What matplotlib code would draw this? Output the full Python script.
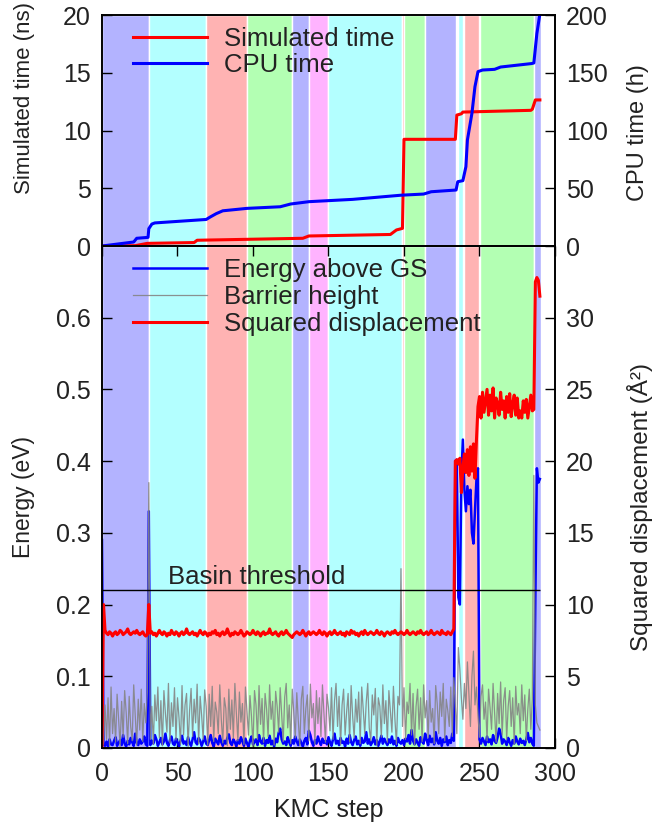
import matplotlib
matplotlib.use('Agg')
import matplotlib.pyplot as plt
import numpy as np

plt.rcParams['font.family'] = ['Liberation Sans', 'DejaVu Sans']
TXT = '#222222'

# ---------------- basin spans (KMC step ranges) ----------------
span_start = [0, 31, 69, 96, 126, 137, 150, 199, 200, 214, 236, 239.5, 250.5, 286]
span_end = [31, 69, 96, 126, 137, 150, 199, 200, 214, 234.5, 239, 249.8, 286, 291]
span_color = ['#b3b3ff', '#b3ffff', '#ffb3b3', '#b3ffb3', '#b3b3ff', '#ffb3ff', '#b3ffff',
              '#ffb3b3', '#b3ffb3', '#b3b3ff', '#b3ffff', '#ffb3b3', '#b3ffb3', '#b3b3ff']

# ---------------- top panel ----------------
sim_steps = [0, 22, 30, 61, 63, 96, 133, 137, 191, 195, 199, 200, 234, 235, 238, 239, 284, 285, 287, 290]
sim_ns = [0, 0.03, 0.23, 0.3, 0.5, 0.58, 0.67, 0.87, 1.0, 1.39, 1.53, 9.24, 9.24, 11.34, 11.45, 11.6,
          11.75, 11.85, 12.65, 12.65]

cpu_steps = [0, 21, 23, 30.5, 31, 33, 35, 69, 71.5, 75.6, 80, 96, 118, 125, 137, 166, 198, 213, 218,
             234.5, 235.6, 239, 241, 242, 245, 247, 249, 252, 260, 264, 284.5, 286, 288, 290]
cpu_h = [0, 3.5, 6.7, 7.5, 15, 19, 20, 23, 25, 28, 30.5, 32.6, 34, 36.4, 38.4, 40.4, 44, 45, 47,
         48.5, 55.7, 56.6, 68.7, 91.8, 115, 138, 151, 152.4, 153, 155, 158, 158.5, 184, 201]

# ---------------- bottom panel (per KMC step) ----------------
energy_mev = [
    290, 6, 3, 9, 2, 12, 5, 4, 10, 15,
    3, 7, 11, 4, 18, 6, 2, 10, 5, 14,
    8, 3, 20, 7, 4, 12, 6, 9, 16, 5,
    3, 330, 4, 10, 6, 18, 12, 3, 8, 14,
    5, 9, 20, 7, 3, 11, 16, 6, 4, 13,
    8, 2, 10, 17, 6, 9, 4, 15, 7, 3,
    12, 22, 8, 5, 14, 10, 3, 9, 16, 6,
    4, 11, 18, 7, 2, 13, 9, 5, 17, 8,
    3, 10, 6, 14, 19, 7, 4, 12, 8, 2,
    11, 6, 15, 9, 3, 13, 7, 1, 10, 16,
    5, 8, 12, 4, 18, 9, 6, 14, 3, 11,
    7, 17, 5, 10, 2, 13, 8, 21, 27, 12,
    6, 9, 4, 15, 8, 3, 11, 6, 16, 9,
    4, 12, 7, 2, 10, 14, 5, 24, 18, 8,
    3, 11, 6, 16, 9, 4, 13, 7, 10, 5,
    15, 8, 3, 12, 20, 6, 10, 4, 14, 7,
    9, 2, 13, 6, 18, 8, 4, 11, 16, 5,
    10, 3, 14, 7, 9, 22, 6, 12, 4, 8,
    15, 5, 11, 3, 9, 17, 6, 13, 8, 4,
    12, 7, 16, 5, 10, 3, 14, 8, 6, 11,
    4, 13, 9, 18, 6, 25, 10, 5, 12, 7,
    3, 15, 9, 6, 20, 11, 4, 17, 8, 13,
    5, 22, 10, 6, 14, 3, 12, 8, 16, 4,
    11, 7, 20, 10, 400, 402, 210, 200, 380, 430,
    360, 330, 365, 340, 360, 300, 285, 330, 375, 390,
    12, 6, 14, 9, 4, 16, 8, 12, 5, 18,
    10, 7, 15, 27, 20, 6, 12, 9, 4, 14,
    8, 3, 11, 6, 16, 9, 5, 13, 7, 10,
    4, 12, 21, 8, 14, 6, 3, 210, 390, 370,
    375]

barrier_mev = [
    95, 5, 60, 12, 70, 3, 85, 20, 55, 8,
    75, 40, 2, 65, 15, 80, 50, 6, 72, 30,
    10, 88, 45, 4, 68, 25, 82, 9, 62, 35,
    78, 370, 12, 58, 5, 74, 38, 85, 14, 66,
    3, 80, 48, 22, 90, 7, 63, 30, 84, 11,
    70, 42, 5, 87, 18, 60, 76, 2, 52, 83,
    16, 68, 35, 89, 6, 72, 45, 12, 81, 58,
    4, 75, 30, 86, 9, 64, 50, 20, 88, 40,
    7, 70, 55, 3, 82, 26, 67, 14, 90, 48,
    10, 78, 36, 62, 5, 85, 52, 18, 73, 44,
    2, 80, 60, 12, 87, 33, 69, 8, 76, 54,
    16, 88, 40, 65, 4, 79, 58, 22, 84, 46,
    9, 71, 90, 28, 60, 6, 82, 50, 14, 77,
    38, 3, 68, 86, 20, 55, 74, 10, 89, 42,
    62, 5, 80, 34, 70, 16, 88, 48, 8, 75,
    56, 24, 84, 12, 66, 90, 30, 72, 4, 60,
    82, 18, 50, 76, 9, 87, 44, 14, 68, 36,
    78, 6, 85, 54, 20, 64, 90, 28, 10, 74,
    46, 83, 3, 70, 58, 15, 88, 34, 66, 8,
    80, 52, 22, 86, 40, 5, 72, 60, 250, 30,
    84, 12, 64, 48, 90, 18, 76, 4, 58, 82,
    26, 70, 9, 88, 42, 66, 14, 80, 36, 55,
    6, 87, 62, 20, 78, 44, 90, 10, 68, 52,
    30, 85, 16, 98, 60, 20, 140, 110, 70, 40,
    90, 55, 120, 75, 30, 100, 135, 60, 85, 45,
    15, 72, 88, 40, 64, 10, 82, 56, 26, 90,
    48, 8, 76, 34, 92, 18, 66, 84, 12, 58,
    80, 30, 70, 5, 86, 46, 62, 20, 88, 38,
    74, 10, 54, 82, 26, 68, 380, 60, 35, 30,
    25]

disp_tenths = [
    0, 100, 82, 80, 79, 81, 80, 78, 80, 81,
    79, 80, 82, 81, 79, 80, 81, 83, 80, 79,
    80, 81, 80, 82, 80, 79, 80, 81, 79, 78,
    79, 100, 80, 81, 79, 80, 78, 80, 82, 80,
    79, 81, 80, 78, 80, 79, 82, 80, 79, 81,
    80, 78, 80, 81, 79, 80, 83, 80, 79, 80,
    81, 79, 80, 78, 80, 82, 80, 79, 81, 80,
    78, 80, 79, 81, 80, 82, 79, 80, 78, 80,
    81, 79, 80, 83, 80, 78, 80, 79, 81, 80,
    79, 80, 82, 80, 78, 79, 81, 80, 79, 80,
    82, 80, 79, 81, 80, 78, 80, 81, 79, 80,
    80, 83, 80, 79, 80, 81, 79, 78, 80, 81,
    79, 80, 82, 80, 79, 78, 77, 79, 80, 81,
    80, 79, 80, 82, 80, 78, 80, 81, 79, 80,
    81, 80, 79, 80, 82, 80, 79, 81, 80, 78,
    80, 81, 79, 80, 82, 80, 79, 80, 81, 79,
    80, 78, 81, 80, 79, 82, 80, 81, 79, 80,
    78, 80, 81, 79, 82, 80, 79, 80, 81, 80,
    79, 80, 82, 80, 79, 81, 80, 78, 80, 81,
    80, 79, 81, 80, 82, 80, 79, 80, 81, 80,
    79, 80, 82, 80, 79, 80, 81, 80, 79, 81,
    80, 82, 80, 79, 80, 81, 79, 80, 82, 80,
    79, 80, 81, 80, 79, 82, 80, 80, 79, 81,
    80, 79, 81, 83, 200, 201, 198, 202, 178, 195,
    205, 192, 208, 190, 210, 193, 212, 188, 215, 238,
    245, 230, 248, 234, 242, 250, 232, 246, 235, 251,
    230, 244, 240, 232, 248, 236, 242, 230, 245, 234,
    247, 231, 240, 246, 232, 244, 230, 235, 230, 242,
    234, 243, 230, 238, 246, 235, 236, 325, 328, 326,
    315]

threshold_ev = 0.22

energy = np.array(energy_mev) / 1000.0
barrier = np.array(barrier_mev) / 1000.0
disp = np.array(disp_tenths) / 10.0
st_e = np.arange(len(energy))
st_b = np.arange(len(barrier))
st_d = np.arange(len(disp))

# ---------------- figure ----------------
fig = plt.figure(figsize=(6.53, 8.32), dpi=100)
axT = fig.add_axes([0.1562, 0.7043, 0.6937, 0.2776])
axB = fig.add_axes([0.1562, 0.1010, 0.6937, 0.6034])

for ax in (axT, axB):
    for s, e, c in zip(span_start, span_end, span_color):
        ax.axvspan(s, e, facecolor=c, edgecolor='white', linewidth=1.0, zorder=0)
    ax.set_xlim(0, 300)

tick_kw = dict(direction='in', length=7, width=1.0, labelsize=18, pad=8, colors='black', labelcolor=TXT)

# top panel
lT1, = axT.plot(sim_steps, sim_ns, color='#ff0000', lw=2.2, label='Simulated time')
axT.set_ylim(0, 20)
axT.set_yticks([0, 5, 10, 15, 20])
axT.set_xticks(range(0, 301, 50))
axT.tick_params(axis='x', bottom=False, top=False, labelbottom=False)
axT.tick_params(axis='y', **tick_kw)
axT2 = axT.twinx()
lT2, = axT2.plot(cpu_steps, cpu_h, color='#0000ff', lw=2.2, label='CPU time')
axT2.set_ylim(0, 200)
axT2.set_yticks(range(0, 201, 50))
axT2.tick_params(axis='y', **tick_kw)
axT.set_ylabel('Simulated time (ns)', fontsize=16, color=TXT)
axT.yaxis.set_label_coords(-0.148, 0.64)
axT2.set_ylabel('CPU time (h)', fontsize=17, color=TXT, rotation=90)
axT2.yaxis.set_label_coords(1.158, 0.49)
axT2.legend(handles=[lT1, lT2], loc='upper left', bbox_to_anchor=(0.068, 0.95), frameon=False,
            fontsize=18.5, handlelength=2.9, handletextpad=0.65, labelspacing=0.1,
            borderpad=0, borderaxespad=0, labelcolor=TXT)

# bottom panel
lB1, = axB.plot(st_e, energy, color='#0000ff', lw=1.8, zorder=2, label='Energy above GS')
lB2, = axB.plot(st_b, barrier, color='#858585', lw=0.9, alpha=0.9, zorder=3, label='Barrier height')
axB.hlines(threshold_ev, 0, st_e[-1], color='black', lw=1.0, zorder=4)
axB.text(44, 0.229, 'Basin threshold', fontsize=18.5, color=TXT, va='baseline')
axB.set_ylim(0, 0.70)
axB.set_yticks([0, 0.1, 0.2, 0.3, 0.4, 0.5, 0.6])
axB.set_yticklabels(['0', '0.1', '0.2', '0.3', '0.4', '0.5', '0.6'])
axB.set_xticks(range(0, 301, 50))
axB.tick_params(axis='both', **tick_kw)
axB.tick_params(axis='x', top=True, pad=10)
axB2 = axB.twinx()
lB3, = axB2.plot(st_d, disp, color='#ff0000', lw=2.2, label='Squared displacement')
axB2.set_ylim(0, 35)
axB2.set_yticks(range(0, 31, 5))
axB2.tick_params(axis='y', **tick_kw)
axB.set_ylabel('Energy (eV)', fontsize=16.5, color=TXT)
axB.yaxis.set_label_coords(-0.148, 0.5)
axB2.set_ylabel('Squared displacement (Å²)', fontsize=17.5, color=TXT)
axB2.yaxis.set_label_coords(1.158, 0.48)
axB.set_xlabel('KMC step', fontsize=18, color=TXT)
axB.xaxis.set_label_coords(0.5, -0.10)
axB2.legend(handles=[lB1, lB2, lB3], loc='upper left', bbox_to_anchor=(0.068, 0.975), frameon=False,
            fontsize=18.5, handlelength=2.9, handletextpad=0.65, labelspacing=0.1,
            borderpad=0, borderaxespad=0, labelcolor=TXT)

for ax in (axT, axT2, axB, axB2):
    for sp in ax.spines.values():
        sp.set_linewidth(1.2)

fig.savefig('out.png', dpi=100)
